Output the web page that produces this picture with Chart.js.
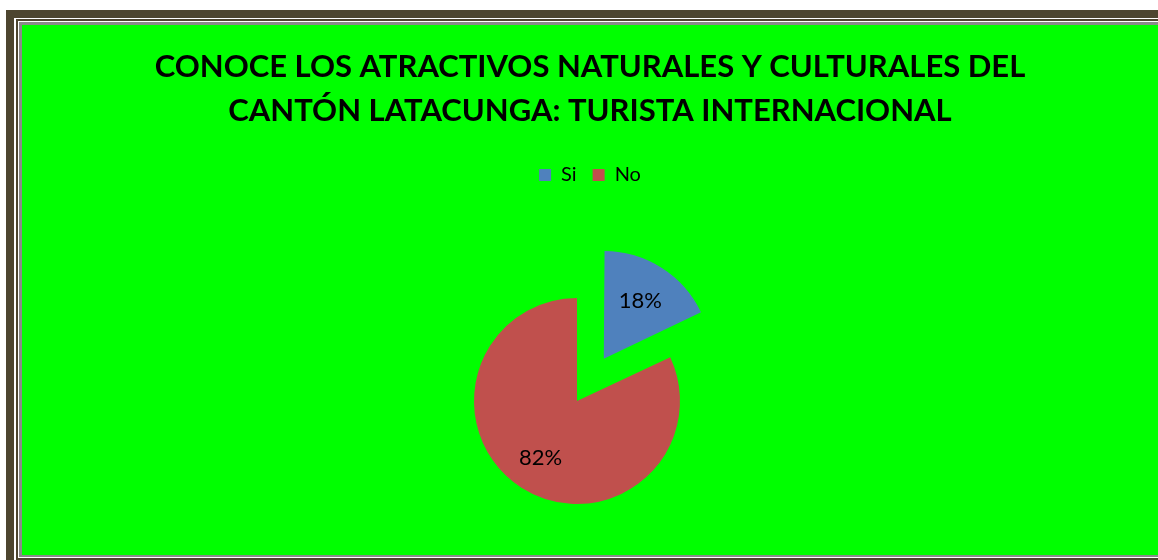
<!DOCTYPE html>
<html>
<head>
<meta charset="utf-8">
<script src="https://cdn.jsdelivr.net/npm/chart.js@4/dist/chart.umd.min.js"></script>
<style>
  html, body { margin: 0; padding: 0; background: #ffffff; overflow: hidden; }
  body { width: 1158px; height: 560px; position: relative; }
  .layer { position: absolute; }
  #band   { left: 6px;  top: 10px; width: 1300px; height: 600px; background: #4d452f; }
  #gap1   { left: 14px; top: 18px; width: 1300px; height: 600px; background: #ffffff; }
  #rule   { left: 16px; top: 19px; width: 1300px; height: 600px; background: #4d452f; }
  #gap2   { left: 18px; top: 21px; width: 1300px; height: 537px; background: #ffffff; }
  #edge   { left: 19px; top: 22px; width: 1300px; height: 535px; background: #8a8a8a; }
  #plot   { left: 22px; top: 25px; width: 1136px; height: 530px; background: #00ff00; overflow: hidden; }
  #holder { position: absolute; left: 0; top: 0; width: 1136px; height: 582px; }
</style>
</head>
<body>
<div class="layer" id="band"></div>
<div class="layer" id="gap1"></div>
<div class="layer" id="rule"></div>
<div class="layer" id="gap2"></div>
<div class="layer" id="edge"></div>
<div class="layer" id="plot">
  <div id="holder"><canvas id="chart"></canvas></div>
</div>
<script>
// Survey answers: share of international tourists who know the attractions
const titleLines = ['CONOCE LOS ATRACTIVOS NATURALES Y CULTURALES DEL', 'CANTÓN LATACUNGA: TURISTA INTERNACIONAL'];
const categories = ['Si', 'No'];
const shares = [18, 82];
const sliceColors = ['#4f81bd', '#c0504d'];
const sliceOffsets = [200, 0];

// Percentage labels placed inside each slice along its middle angle
const sliceLabels = {
  id: 'sliceLabels',
  afterDatasetsDraw(chart) {
    const ctx = chart.ctx;
    const meta = chart.getDatasetMeta(0);
    const values = chart.data.datasets[0].data;
    const total = values.reduce((a, b) => a + b, 0);
    ctx.save();
    ctx.font = '22px Lato';
    ctx.fillStyle = '#000000';
    ctx.textAlign = 'center';
    ctx.textBaseline = 'middle';
    meta.data.forEach((arc, i) => {
      const p = arc.getProps(['x', 'y', 'startAngle', 'endAngle', 'outerRadius']);
      const mid = (p.startAngle + p.endAngle) / 2;
      const shift = (arc.options.offset || 0) / 4;
      const dist = shift + p.outerRadius * 0.66;
      const tx = p.x + Math.cos(mid) * dist;
      const ty = p.y + Math.sin(mid) * dist;
      ctx.fillText(Math.round(values[i] / total * 100) + '%', tx, ty);
    });
    ctx.restore();
  }
};

new Chart(document.getElementById('chart'), {
  type: 'pie',
  data: {
    labels: categories,
    datasets: [{
      data: shares,
      backgroundColor: sliceColors,
      borderWidth: 0,
      offset: sliceOffsets
    }]
  },
  options: {
    responsive: true,
    maintainAspectRatio: false,
    animation: false,
    radius: 103,
    layout: { padding: 0 },
    plugins: {
      title: {
        display: true,
        text: titleLines,
        color: '#000000',
        font: { family: 'Lato', size: 31, weight: 'bold', lineHeight: '44px' },
        padding: { top: 20, bottom: 16 }
      },
      subtitle: {
        // empty spacer on the right side of the plot area
        display: true,
        text: '',
        position: 'right',
        fullSize: false,
        font: { size: 10, lineHeight: '26px' },
        padding: 0
      },
      legend: {
        display: true,
        position: 'top',
        labels: {
          color: '#000000',
          font: { family: 'Lato', size: 20 },
          boxWidth: 12,
          boxHeight: 12,
          padding: 16
        }
      },
      tooltip: { enabled: false }
    }
  },
  plugins: [sliceLabels]
});
</script>
</body>
</html>
